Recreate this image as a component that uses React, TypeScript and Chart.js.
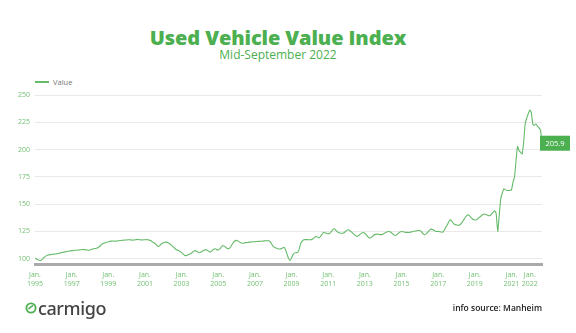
import React, { useEffect, useRef } from 'react';
import { Chart, registerables } from 'chart.js';

Chart.register(...registerables);

const TITLE = 'Used Vehicle Value Index';
const SUBTITLE = 'Mid-September 2022';
const SERIES_NAME = 'Value';
const SOURCE = 'info source: Manheim';
const BRAND = 'carmigo';
const START_YEAR = 1995;
const MONTHS = ['Jan.', 'Feb.', 'Mar.', 'Apr.', 'May', 'Jun.', 'Jul.', 'Aug.', 'Sep.', 'Oct.', 'Nov.', 'Dec.'];
const TICK_YEARS = [1995, 1997, 1999, 2001, 2003, 2005, 2007, 2009, 2011, 2013, 2015, 2017, 2019, 2021, 2022];
const Y_TICKS = [100, 125, 150, 175, 200, 225, 250];
const LAST_LABEL = '205.9';

// Monthly index values, Jan 1995 .. Sep 2022
const values = [
  // 1995
  100.2, 99.6, 98.8, 98.2, 98.4, 99.6, 101.0, 102.2, 103.0, 103.3, 103.6, 103.8,
  // 1996
  104.0, 104.2, 104.3, 104.6, 105.0, 105.4, 105.7, 105.9, 106.2, 106.5, 106.7, 107.0,
  // 1997
  107.3, 107.2, 107.5, 107.8, 107.6, 108.0, 108.1, 108.2, 108.4, 108.0, 107.9, 107.6,
  // 1998
  107.9, 108.6, 108.8, 109.2, 109.5, 109.7, 110.8, 112.0, 113.4, 114.0, 114.6, 115.0,
  // 1999
  115.4, 115.8, 116.0, 116.1, 115.9, 116.0, 116.3, 116.4, 116.6, 116.8, 116.9, 117.0,
  // 2000
  117.1, 117.2, 117.3, 117.0, 116.9, 117.1, 117.3, 117.6, 117.3, 117.2, 117.1, 117.2,
  // 2001
  117.3, 117.4, 117.2, 116.8, 116.4, 115.1, 114.5, 113.3, 111.8, 111.2, 112.4, 113.8,
  // 2002
  114.6, 115.0, 115.1, 114.6, 113.8, 112.6, 111.4, 110.0, 108.8, 107.8, 107.3, 106.6,
  // 2003
  105.4, 104.0, 102.9, 102.7, 103.2, 104.0, 104.6, 105.6, 106.8, 107.3, 106.6, 105.8,
  // 2004
  105.4, 106.3, 107.1, 107.8, 108.2, 107.4, 106.4, 106.0, 107.2, 108.6, 109.0, 108.2,
  // 2005
  107.8, 108.8, 110.6, 112.0, 111.4, 110.2, 109.2, 109.0, 110.6, 112.8, 114.8, 116.4,
  // 2006
  116.7, 116.0, 115.2, 114.2, 114.0, 114.3, 114.6, 114.8, 114.9, 115.1, 115.3, 115.4,
  // 2007
  115.5, 115.6, 115.7, 115.8, 115.9, 116.0, 116.2, 116.3, 116.4, 116.4, 115.6, 113.2,
  // 2008
  111.2, 110.2, 109.6, 109.0, 108.8, 108.9, 109.6, 110.3, 108.4, 104.3, 100.2, 98.2,
  // 2009
  100.8, 103.6, 105.2, 105.4, 105.6, 108.6, 114.0, 116.0, 117.3, 117.4, 117.4, 117.3,
  // 2010
  117.3, 117.4, 118.2, 119.2, 120.3, 119.8, 118.9, 120.4, 122.4, 124.2, 123.6, 123.0,
  // 2011
  122.8, 123.0, 124.8, 126.6, 127.3, 126.0, 124.6, 123.8, 123.3, 123.2, 123.5, 124.4,
  // 2012
  125.6, 126.4, 126.0, 124.8, 123.3, 122.0, 121.0, 120.3, 121.2, 122.4, 123.4, 123.9,
  // 2013
  123.2, 121.6, 120.0, 118.8, 119.2, 120.4, 121.6, 122.2, 122.4, 122.2, 122.0, 122.0,
  // 2014
  122.6, 123.4, 124.2, 124.6, 124.8, 124.2, 123.0, 121.8, 121.2, 122.0, 123.4, 124.4,
  // 2015
  124.8, 124.6, 124.3, 124.0, 124.0, 124.0, 124.3, 124.6, 125.0, 125.3, 125.6, 125.7,
  // 2016
  125.7, 124.6, 123.0, 121.8, 122.4, 123.8, 125.4, 127.0, 126.8, 126.2, 125.4, 124.8,
  // 2017
  125.0, 124.6, 124.4, 124.2, 126.2, 128.8, 131.0, 134.0, 135.5, 134.2, 132.4, 131.2,
  // 2018
  130.9, 130.6, 130.8, 132.0, 134.0, 136.0, 138.2, 139.8, 140.0, 138.6, 137.0, 135.8,
  // 2019
  135.4, 135.5, 136.6, 137.8, 139.0, 140.2, 140.9, 140.6, 140.0, 139.4, 139.4, 141.0,
  // 2020
  142.6, 143.9, 141.0, 124.8, 140.0, 155.0, 160.0, 164.0, 163.3, 162.5, 162.5, 162.7,
  // 2021
  163.0, 170.0, 175.0, 190.0, 203.0, 199.0, 197.5, 196.0, 207.0, 224.0, 229.0, 233.0,
  // 2022
  236.3, 234.0, 223.5, 222.5, 223.5, 221.6, 220.0, 218.0, 205.9,
];

const categories = values.map((_, i) => `${MONTHS[i % 12]} ${START_YEAR + Math.floor(i / 12)}`);

const GREEN = '#4caf50';
const LINE_GREEN = '#66bb6a';
const TICK_GREEN = '#72c072';

const lastValuePlugin = {
  id: 'lastValueBox',
  afterDatasetsDraw(chart: any) {
    const meta = chart.getDatasetMeta(0);
    const pt = meta.data[meta.data.length - 1];
    if (!pt) return;
    const ctx = chart.ctx;
    const w = 30;
    const h = 15;
    ctx.save();
    ctx.fillStyle = GREEN;
    ctx.fillRect(pt.x - 2, pt.y - h / 2, w, h);
    ctx.fillStyle = '#ffffff';
    ctx.font = '7.5px "Open Sans", sans-serif';
    ctx.textAlign = 'center';
    ctx.textBaseline = 'middle';
    ctx.fillText(LAST_LABEL, pt.x - 2 + w / 2, pt.y + 0.5);
    ctx.restore();
  },
};

function ChartCanvas() {
  const ref = useRef<HTMLCanvasElement | null>(null);
  useEffect(() => {
    if (!ref.current) return;
    const chart = new Chart(ref.current, {
      type: 'line',
      data: {
        labels: categories,
        datasets: [
          {
            label: SERIES_NAME,
            data: values,
            borderColor: LINE_GREEN,
            backgroundColor: LINE_GREEN,
            borderWidth: 1.1,
            pointRadius: 0,
            tension: 0.2,
            fill: false,
          },
        ],
      },
      options: {
        animation: false,
        responsive: false,
        maintainAspectRatio: false,
        layout: { padding: { top: 8, right: 34, bottom: 0, left: 0 } },
        plugins: {
          legend: { display: false },
          tooltip: { enabled: false },
        },
        scales: {
          x: {
            type: 'category',
            offset: false,
            grid: { display: false, drawTicks: false },
            border: { display: true, color: '#aaaaaa', width: 3 },
            ticks: {
              autoSkip: false,
              maxRotation: 0,
              minRotation: 0,
              padding: 6,
              color: TICK_GREEN,
              font: { family: '"Open Sans", sans-serif', size: 7, lineHeight: 1.3 },
              callback: (_v: any, idx: number) => {
                const y = START_YEAR + Math.floor(idx / 12);
                if (idx % 12 === 0 && TICK_YEARS.includes(y)) return ['Jan.', String(y)];
                return null;
              },
            },
            afterFit: (s: any) => {
              s.height = 36;
            },
          },
          y: {
            min: 95,
            max: 250,
            grid: { color: '#e9e9e9', lineWidth: 1, drawTicks: false },
            border: { display: false },
            ticks: {
              padding: 5,
              color: TICK_GREEN,
              font: { family: '"Open Sans", sans-serif', size: 7 },
            },
            afterBuildTicks: (s: any) => {
              s.ticks = Y_TICKS.map((v) => ({ value: v }));
            },
            afterFit: (s: any) => {
              s.width = 35;
            },
          },
        },
      },
      plugins: [lastValuePlugin],
    });
    return () => chart.destroy();
  }, []);
  return <canvas ref={ref} width={576} height={214} style={{ position: 'absolute', left: 0, top: 86, width: 576, height: 214 }} />;
}

export default function App() {
  return (
    <div
      style={{
        position: 'fixed',
        left: 0,
        top: 0,
        width: 576,
        height: 333,
        background: '#ffffff',
        overflow: 'hidden',
        fontFamily: '"Open Sans", sans-serif',
      }}
    >
      <div
        style={{
          position: 'absolute',
          left: 0,
          width: 556,
          top: 25,
          textAlign: 'center',
          color: GREEN,
          fontWeight: 800,
          fontSize: 20,
          lineHeight: '26px',
          letterSpacing: '-0.1px',
        }}
      >
        {TITLE}
      </div>
      <div
        style={{
          position: 'absolute',
          left: 0,
          width: 556,
          top: 47,
          textAlign: 'center',
          color: GREEN,
          fontSize: 12,
          lineHeight: '16px',
        }}
      >
        {SUBTITLE}
      </div>
      <div
        style={{
          position: 'absolute',
          left: 35,
          top: 76,
          height: 12,
          display: 'flex',
          alignItems: 'center',
          fontSize: 7.5,
          color: '#777',
        }}
      >
        <span style={{ display: 'inline-block', width: 14, height: 1.5, background: LINE_GREEN, marginRight: 4 }} />
        <span>{SERIES_NAME}</span>
      </div>
      <ChartCanvas />
      <div style={{ position: 'absolute', left: 25, top: 296, height: 24, display: 'flex', alignItems: 'center' }}>
        <svg width="12" height="12" viewBox="0 0 12 12" style={{ marginRight: 1 }}>
          <circle cx="6" cy="6" r="4.6" fill="none" stroke={GREEN} strokeWidth="1.8" />
          <path d="M4 6.6 L5.6 5.2 L7.6 3.8" fill="none" stroke={GREEN} strokeWidth="1.6" strokeLinecap="round" />
        </svg>
        <span style={{ fontSize: 18, color: '#444', fontFamily: '"Noto Sans", sans-serif', fontWeight: 500, letterSpacing: '-0.4px' }}>{BRAND}</span>
      </div>
      <div
        style={{
          position: 'absolute',
          right: 34,
          top: 302,
          fontSize: 8.5,
          fontWeight: 600,
          color: '#222',
          lineHeight: '12px',
        }}
      >
        {SOURCE}
      </div>
    </div>
  );
}
